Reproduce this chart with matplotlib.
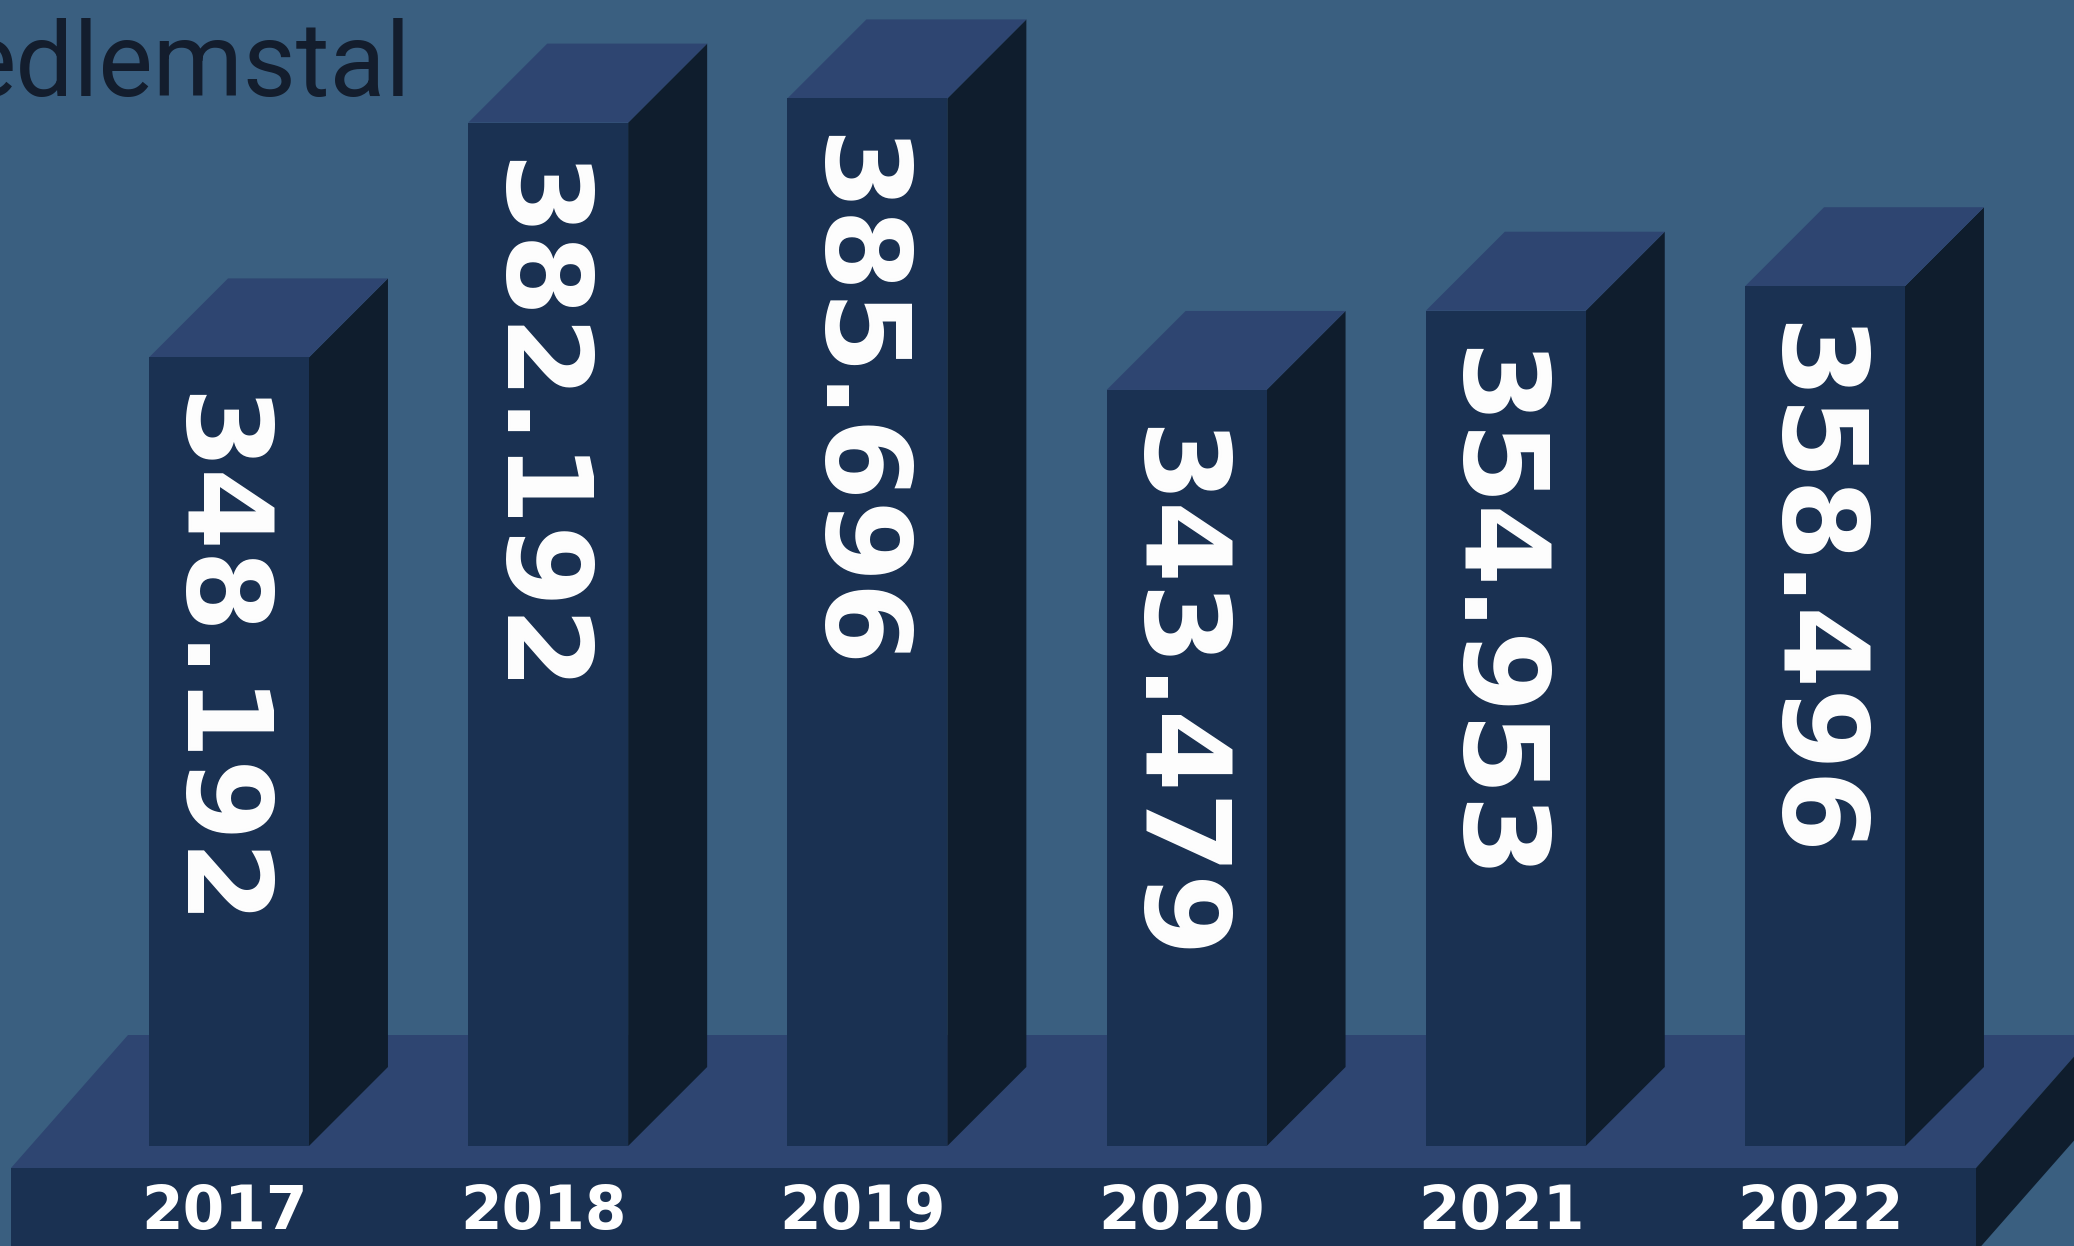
import matplotlib
matplotlib.use("Agg")
import matplotlib.pyplot as plt
from matplotlib.patches import Polygon

YEARS = ["2017", "2018", "2019", "2020", "2021", "2022"]
VALUES = [348.192, 382.192, 385.696, 343.479, 354.953, 358.496]
LABELS = ["348.192", "382.192", "385.696", "343.479", "354.953", "358.496"]

BG, TOP, FRONT, SIDE, INK = "#3a5f80", "#2e4571", "#1a3152", "#0f1d2d", "#131d2d"

W, H = 2074, 1246          # output size in pixels
PX_SLOT = 319.2            # pixels between bars
PX_VAL = 6.906             # pixels per value unit
FIRST_CX = 229             # pixel x of first bar centre
FLOOR_PX = 1146            # pixel y (from top) of bar bottoms
FLOOR_VAL = 234.0          # value that sits on the floor
BAR_W = 0.501              # in slot units
DEPTH = 79                 # bar depth, pixels (45 deg)

X0 = -FIRST_CX / PX_SLOT
Y0 = FLOOR_VAL - (H - FLOOR_PX) / PX_VAL


def px(xp, yp):
    """pixel (from top-left) -> data coords"""
    return X0 + xp / PX_SLOT, Y0 + (H - yp) / PX_VAL


def main():
    fig = plt.figure(figsize=(W / 100, H / 100), dpi=100, facecolor=BG)
    ax = fig.add_axes([0, 0, 1, 1])
    ax.set_facecolor(BG)
    ax.set_xlim(X0, X0 + W / PX_SLOT)
    ax.set_ylim(Y0, Y0 + H / PX_VAL)
    ax.axis("off")

    ddx, ddy = DEPTH / PX_SLOT, DEPTH / PX_VAL

    # platform
    pl, pr, pt, pb = 11, 1976, 1168, 1252
    pdx, pdy = 117, 133
    ax.add_patch(Polygon([px(pl, pt), px(pr, pt), px(pr + pdx, pt - pdy), px(pl + pdx, pt - pdy)],
                         closed=True, fc=TOP, ec="none"))
    ax.add_patch(Polygon([px(pl, pt), px(pr, pt), px(pr, pb), px(pl, pb)], closed=True, fc=FRONT, ec="none"))
    ax.add_patch(Polygon([px(pr, pt), px(pr + pdx, pt - pdy), px(pr + pdx, pb - pdy), px(pr, pb)],
                         closed=True, fc=SIDE, ec="none"))

    for i, (yr, v, lab) in enumerate(zip(YEARS, VALUES, LABELS)):
        l, r = i - BAR_W / 2, i + BAR_W / 2
        b = FLOOR_VAL
        ax.add_patch(Polygon([(r, b), (r + ddx, b + ddy), (r + ddx, v + ddy), (r, v)],
                             closed=True, fc=SIDE, ec="none"))
        ax.add_patch(Polygon([(l, v), (r, v), (r + ddx, v + ddy), (l + ddx, v + ddy)],
                             closed=True, fc=TOP, ec="none"))
        ax.add_patch(Polygon([(l, b), (r, b), (r, v), (l, v)], closed=True, fc=FRONT, ec="none"))
        ax.text(i - 17 / PX_SLOT, v - 36 / PX_VAL, lab, rotation=270, ha="center", va="top",
                fontsize=85, weight="bold", color="white", family="DejaVu Sans")
        ax.text(i - 0.015, px(0, 1212)[1], yr, ha="center", va="center",
                fontsize=43, weight="bold", color="white", family="DejaVu Sans")

    x, y = px(411, 96)
    ax.text(x, y, "edlemstal", ha="right", va="baseline", fontsize=74,
            color=INK, family=["Roboto", "DejaVu Sans"])

    fig.savefig("out.png", dpi=100, facecolor=BG)


if __name__ == "__main__":
    main()
